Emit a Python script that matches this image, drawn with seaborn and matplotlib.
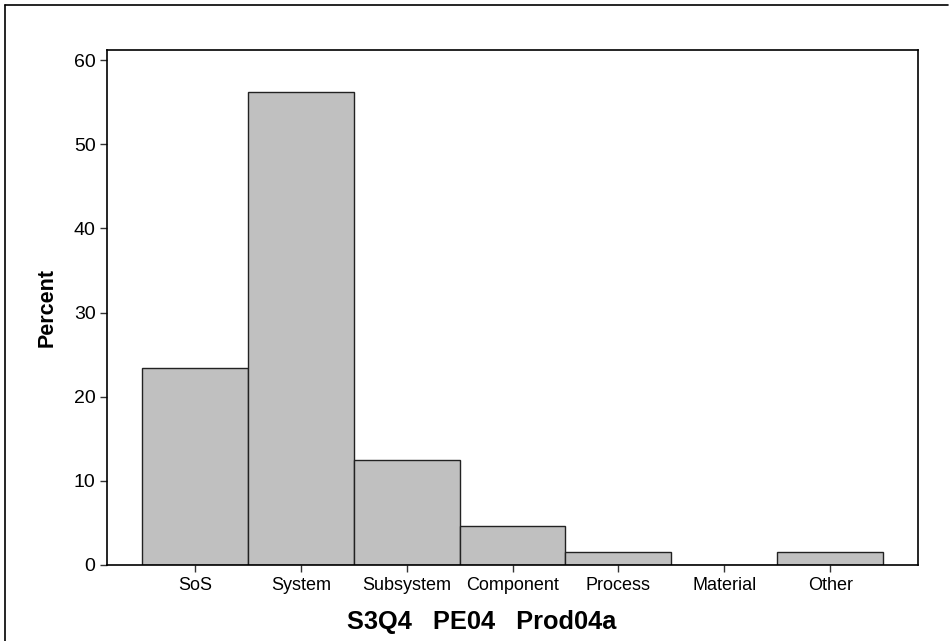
import matplotlib
matplotlib.use("Agg")
import matplotlib.pyplot as plt
import numpy as np
import pandas as pd
import seaborn as sns
from matplotlib.lines import Line2D

categories = ["SoS", "System", "Subsystem", "Component", "Process", "Material", "Other"]
percent = [23.4, 56.25, 12.5, 4.69, 1.56, 0.0, 1.56]
y_ticks = [0, 10, 20, 30, 40, 50, 60]

sns.set_theme(style="white")
plt.rcParams["font.family"] = ["Liberation Sans", "DejaVu Sans"]
plt.rcParams["text.color"] = "black"
plt.rcParams["axes.labelcolor"] = "black"
plt.rcParams["xtick.color"] = "black"
plt.rcParams["ytick.color"] = "black"

df = pd.DataFrame({"category": categories, "percent": percent})

fig = plt.figure(figsize=(9.53, 6.41), dpi=100)
ax = fig.add_axes([0.1123, 0.1186, 0.851, 0.8034])

sns.barplot(
    data=df,
    x="category",
    y="percent",
    order=categories,
    width=1.0,
    color="#c0c0c0",
    saturation=1,
    edgecolor="#222222",
    linewidth=1.0,
    ax=ax,
)

ax.set_xlim(-0.83, len(categories) - 1 + 0.83)
ax.set_ylim(0, 61.2)
ax.set_yticks(y_ticks)
ax.set_yticklabels([str(t) for t in y_ticks], fontsize=14)
ax.set_xticks(np.arange(len(categories)))
ax.set_xticklabels(categories, fontsize=13)
ax.tick_params(axis="both", direction="out", length=4.8, width=1, color="#333333",
               bottom=True, left=True)
ax.tick_params(axis="x", pad=4)
ax.tick_params(axis="y", pad=3.5)

ax.set_xlabel("S3Q4   PE04   Prod04a", fontsize=18.3, fontweight="bold")
ax.set_ylabel("Percent", fontsize=15.5, fontweight="bold")
ax.xaxis.label.set_va("baseline")
ax.yaxis.label.set_va("baseline")
ax.xaxis.set_label_coords(0.4618, -0.1243)
ax.yaxis.set_label_coords(-0.0666, 0.5)

for spine in ax.spines.values():
    spine.set_visible(True)
    spine.set_color("black")
    spine.set_linewidth(1.2)

# outer frame (only top and left edges are visible in the original)
fig.add_artist(Line2D([5 / 953, 948 / 953], [1 - 5 / 641, 1 - 5 / 641],
                      transform=fig.transFigure, color="black", lw=1.2))
fig.add_artist(Line2D([5 / 953, 5 / 953], [0, 1 - 5 / 641],
                      transform=fig.transFigure, color="black", lw=1.2))

fig.savefig("out.png", dpi=100)
plt.close(fig)
